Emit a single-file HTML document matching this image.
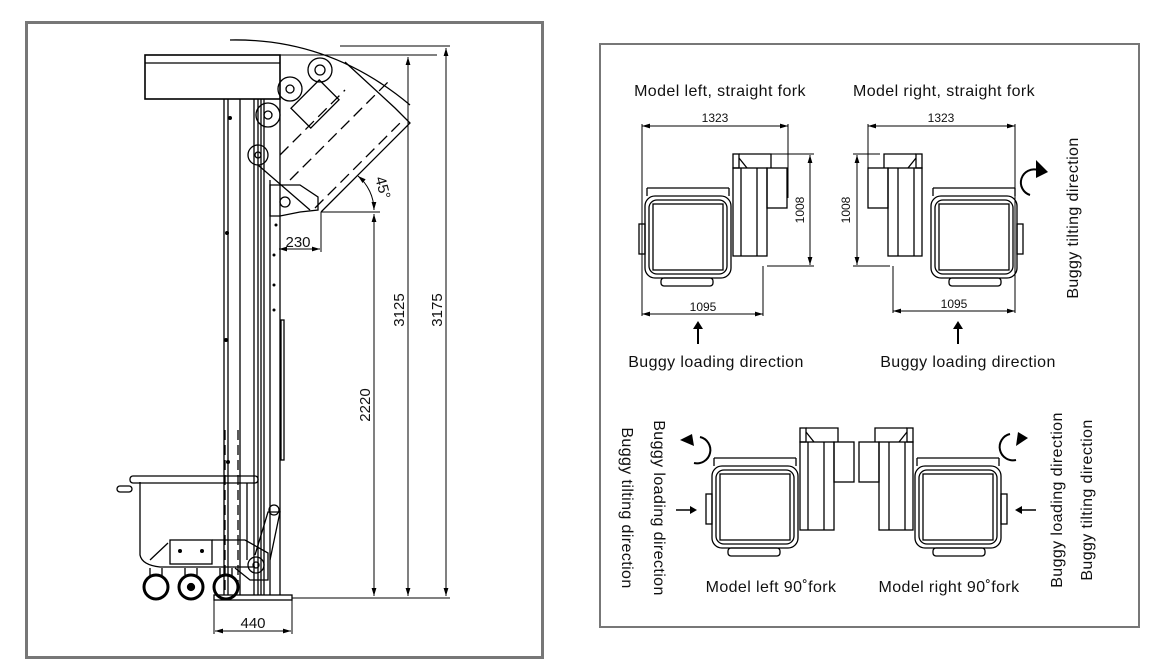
<!DOCTYPE html>
<html><head><meta charset="utf-8"><style>
html,body{margin:0;padding:0;background:#fff;}
svg{display:block}
text{font-family:"Liberation Sans",sans-serif;fill:#111}
</style></head><body>
<svg width="1158" height="663" viewBox="0 0 1158 663" xmlns="http://www.w3.org/2000/svg">
<defs>
<marker id="ar" viewBox="0 0 10 6" refX="10" refY="3" markerWidth="8" markerHeight="5" orient="auto-start-reverse"><path d="M0,0 L10,3 L0,6 z" fill="#000"/></marker>
<g id="buggy" fill="none" stroke="#000" stroke-width="1.3">
  <rect x="0" y="8" width="86" height="82" rx="10"/>
  <rect x="4" y="12" width="78" height="74" rx="8"/>
  <rect x="8" y="16" width="70" height="66"/>
  <rect x="16" y="90" width="52" height="8" rx="3"/>
  <rect x="-6" y="36" width="6" height="30"/>
  <line x1="2" y1="0" x2="84" y2="0"/><line x1="2" y1="0" x2="2" y2="8"/><line x1="84" y1="0" x2="84" y2="8"/>
</g>
<g id="unit" fill="none" stroke="#000" stroke-width="1.3">
  <rect x="0" y="14" width="34" height="88"/>
  <line x1="8" y1="14" x2="8" y2="102"/><line x1="24" y1="14" x2="24" y2="102"/>
  <rect x="34" y="14" width="20" height="40"/>
  <rect x="0" y="0" width="6" height="14"/>
  <path d="M6,4 L14,14 M6,0 L38,0 L38,14"/>
</g>
</defs>

<rect x="26.5" y="22.5" width="516" height="635" fill="none" stroke="#777" stroke-width="3"/>
<rect x="600" y="44" width="539" height="583" fill="none" stroke="#777" stroke-width="2"/>

<g fill="none" stroke="#000" stroke-width="1.3">
  <rect x="145" y="55" width="135" height="44" stroke-width="1.6"/>
  <line x1="145" y1="63" x2="280" y2="63"/>
  <line x1="224" y1="99" x2="224" y2="595"/>
  <line x1="228" y1="99" x2="228" y2="595"/>
  <line x1="240" y1="99" x2="240" y2="595"/>
  <line x1="254" y1="99" x2="254" y2="595"/>
  <line x1="258" y1="99" x2="258" y2="595"/>
  <line x1="261" y1="99" x2="261" y2="595"/>
  <line x1="264" y1="99" x2="264" y2="595"/>
  <line x1="270" y1="180" x2="270" y2="595"/>
  <line x1="280" y1="99" x2="280" y2="595"/>
  <rect x="281" y="320" width="3" height="140"/>
  <rect x="214" y="595" width="78" height="5"/>
  <path d="M321,212 L410,123 L395,108 L345,62"/>
  <path d="M315,208 L400,123" stroke-dasharray="12,6"/>
  <path d="M290,180 L390,80" stroke-dasharray="12,6"/>
  <path d="M280,155 L345,90" stroke-dasharray="12,6"/>
  <path d="M230,40 Q330,38 410,105"/>
  <rect x="295" y="90" width="40" height="28" transform="rotate(-45 315 104)"/>
  <circle cx="320" cy="70" r="12"/><circle cx="320" cy="70" r="5"/>
  <circle cx="290" cy="89" r="12"/><circle cx="290" cy="89" r="4"/>
  <circle cx="268" cy="115" r="12"/><circle cx="268" cy="115" r="4"/>
  <circle cx="258" cy="155" r="10"/><circle cx="258" cy="155" r="3"/>
  <path d="M270,185 L300,185 L318,197 L318,210 L300,212 L280,216 L270,216 z"/>
  <circle cx="285" cy="202" r="5"/>
  <path d="M258,165 L310,210"/>
  <path d="M140,482 L140,555 Q142,565 160,567 L255,567"/>
  <rect x="130" y="476" width="128" height="7" rx="3"/>
  <rect x="117" y="486" width="15" height="6" rx="3"/>
  <line x1="247" y1="483" x2="247" y2="560"/>
  <rect x="170" y="540" width="42" height="24"/>
  <path d="M150,560 L168,543 M212,540 L245,540 L268,553 L268,580 L250,580 L235,568"/>
  <path d="M255,555 L268,512 L280,512 L270,560"/>
  <circle cx="274" cy="510" r="5"/>
  <circle cx="256" cy="565" r="8"/><circle cx="256" cy="565" r="3"/>
  <line x1="225" y1="430" x2="225" y2="590" stroke-dasharray="10,5"/>
  <line x1="238" y1="430" x2="238" y2="590" stroke-dasharray="10,5"/>
  <g stroke-width="3"><circle cx="156" cy="587" r="12"/><circle cx="191" cy="587" r="12"/><circle cx="226" cy="587" r="12"/></g>
  <circle cx="191" cy="587" r="3.5" fill="#000"/>
  <path d="M150,568 L150,578 M162,568 L162,578 M185,568 L185,575 M197,568 L197,575 M220,568 L220,578 M232,568 L232,578"/>
</g>
<g fill="#000">
  <circle cx="230" cy="118" r="2"/><circle cx="227" cy="233" r="2"/><circle cx="226" cy="340" r="2"/><circle cx="228" cy="462" r="2"/>
  <circle cx="276" cy="225" r="1.5"/><circle cx="274" cy="255" r="1.5"/><circle cx="274" cy="285" r="1.5"/><circle cx="274" cy="310" r="1.5"/>
  <circle cx="180" cy="551" r="2"/><circle cx="202" cy="551" r="2"/>
</g>
<g fill="none" stroke="#000" stroke-width="1">
  <line x1="280" y1="55" x2="437" y2="55"/>
  <line x1="340" y1="46" x2="450" y2="46"/>
  <line x1="321" y1="212" x2="380" y2="212"/>
  <line x1="292" y1="598" x2="450" y2="598"/>
  <line x1="374" y1="214" x2="374" y2="596" marker-start="url(#ar)" marker-end="url(#ar)"/>
  <line x1="408" y1="57" x2="408" y2="596" marker-start="url(#ar)" marker-end="url(#ar)"/>
  <line x1="446" y1="48" x2="446" y2="596" marker-start="url(#ar)" marker-end="url(#ar)"/>
  <path d="M358,176 A45,45 0 0 1 374,210" marker-start="url(#ar)" marker-end="url(#ar)"/>
  <line x1="321" y1="212" x2="321" y2="252"/>
  <line x1="279" y1="249" x2="320" y2="249" marker-start="url(#ar)" marker-end="url(#ar)"/>
  <line x1="214" y1="600" x2="214" y2="634"/><line x1="292" y1="600" x2="292" y2="634"/>
  <line x1="215" y1="631" x2="291" y2="631" marker-start="url(#ar)" marker-end="url(#ar)"/>
</g>
<g font-size="15">
  <text x="298" y="247" text-anchor="middle">230</text>
  <text x="253" y="628" text-anchor="middle">440</text>
  <text x="378" y="189" transform="rotate(75 378 189)" text-anchor="middle">45°</text>
  <text x="370" y="405" transform="rotate(-90 370 405)" text-anchor="middle">2220</text>
  <text x="404" y="310" transform="rotate(-90 404 310)" text-anchor="middle">3125</text>
  <text x="442" y="310" transform="rotate(-90 442 310)" text-anchor="middle">3175</text>
</g>

<g font-size="16" letter-spacing="0.4">
  <text x="720" y="96" text-anchor="middle">Model left, straight fork</text>
  <text x="944" y="96" text-anchor="middle">Model right, straight fork</text>
  <text x="716" y="367" text-anchor="middle">Buggy loading direction</text>
  <text x="968" y="367" text-anchor="middle">Buggy loading direction</text>
  <text x="771" y="592" text-anchor="middle">Model left 90˚fork</text>
  <text x="949" y="592" text-anchor="middle">Model right 90˚fork</text>
  <text x="1078" y="218" transform="rotate(-90 1078 218)" text-anchor="middle">Buggy tilting direction</text>
  <text x="654" y="508" transform="rotate(90 654 508)" text-anchor="middle">Buggy loading direction</text>
  <text x="622" y="508" transform="rotate(90 622 508)" text-anchor="middle">Buggy tilting direction</text>
  <text x="1062" y="500" transform="rotate(-90 1062 500)" text-anchor="middle">Buggy loading direction</text>
  <text x="1092" y="500" transform="rotate(-90 1092 500)" text-anchor="middle">Buggy tilting direction</text>
</g>
<use href="#buggy" x="645" y="188"/>
<use href="#unit" x="733" y="154"/>
<g transform="translate(1717,0) scale(-1,1)">
  <use href="#buggy" x="700" y="188"/>
  <use href="#unit" x="795" y="154"/>
</g>
<use href="#buggy" x="712" y="458"/>
<use href="#unit" x="800" y="428"/>
<g transform="translate(1713,0) scale(-1,1)">
  <use href="#buggy" x="712" y="458"/>
  <use href="#unit" x="800" y="428"/>
</g>
<g fill="none" stroke="#000" stroke-width="1">
  <line x1="642" y1="126" x2="788" y2="126" marker-start="url(#ar)" marker-end="url(#ar)"/>
  <line x1="642" y1="124" x2="642" y2="316"/><line x1="788" y1="124" x2="788" y2="198"/>
  <line x1="642" y1="314" x2="763" y2="314" marker-start="url(#ar)" marker-end="url(#ar)"/>
  <line x1="763" y1="266" x2="763" y2="316"/>
  <line x1="767" y1="154" x2="814" y2="154"/><line x1="767" y1="266" x2="814" y2="266"/>
  <line x1="810" y1="155" x2="810" y2="265" marker-start="url(#ar)" marker-end="url(#ar)"/>
  <line x1="868" y1="126" x2="1015" y2="126" marker-start="url(#ar)" marker-end="url(#ar)"/>
  <line x1="868" y1="124" x2="868" y2="198"/><line x1="1015" y1="124" x2="1015" y2="313"/>
  <line x1="893" y1="311" x2="1015" y2="311" marker-start="url(#ar)" marker-end="url(#ar)"/>
  <line x1="893" y1="266" x2="893" y2="313"/>
  <line x1="853" y1="154" x2="880" y2="154"/><line x1="853" y1="266" x2="890" y2="266"/>
  <line x1="857" y1="155" x2="857" y2="265" marker-start="url(#ar)" marker-end="url(#ar)"/>
</g>
<g font-size="12">
  <text x="715" y="122" text-anchor="middle">1323</text>
  <text x="941" y="122" text-anchor="middle">1323</text>
  <text x="703" y="311" text-anchor="middle">1095</text>
  <text x="954" y="308" text-anchor="middle">1095</text>
  <text x="804" y="210" transform="rotate(-90 804 210)" text-anchor="middle">1008</text>
  <text x="850" y="210" transform="rotate(-90 850 210)" text-anchor="middle">1008</text>
</g>
<g stroke="#000" stroke-width="2" fill="none">
  <line x1="698" y1="344" x2="698" y2="327"/><path d="M693,329 L698,321 L703,329" fill="#000" stroke="none"/>
  <line x1="958" y1="344" x2="958" y2="327"/><path d="M953,329 L958,321 L963,329" fill="#000" stroke="none"/>
  <line x1="676" y1="510" x2="692" y2="510" stroke-width="1.5"/><path d="M690,506 L697,510 L690,514" fill="#000" stroke="none"/>
  <line x1="1036" y1="510" x2="1020" y2="510" stroke-width="1.5"/><path d="M1022,506 L1015,510 L1022,514" fill="#000" stroke="none"/>
  <path d="M1038,170 A11,11 0 1 0 1030,195"/>
  <path d="M1010,434 A11,11 0 1 0 1016,460"/>
  <path d="M700,437 A11,11 0 1 1 694,463"/>
</g>
<g fill="#000">
  <path d="M1036,160 L1048,172 L1036,178 z"/>
  <path d="M1018,432 L1028,438 L1016,446 z"/>
  <path d="M680,440 L692,434 L694,446 z"/>
</g>
</svg>
</body></html>
